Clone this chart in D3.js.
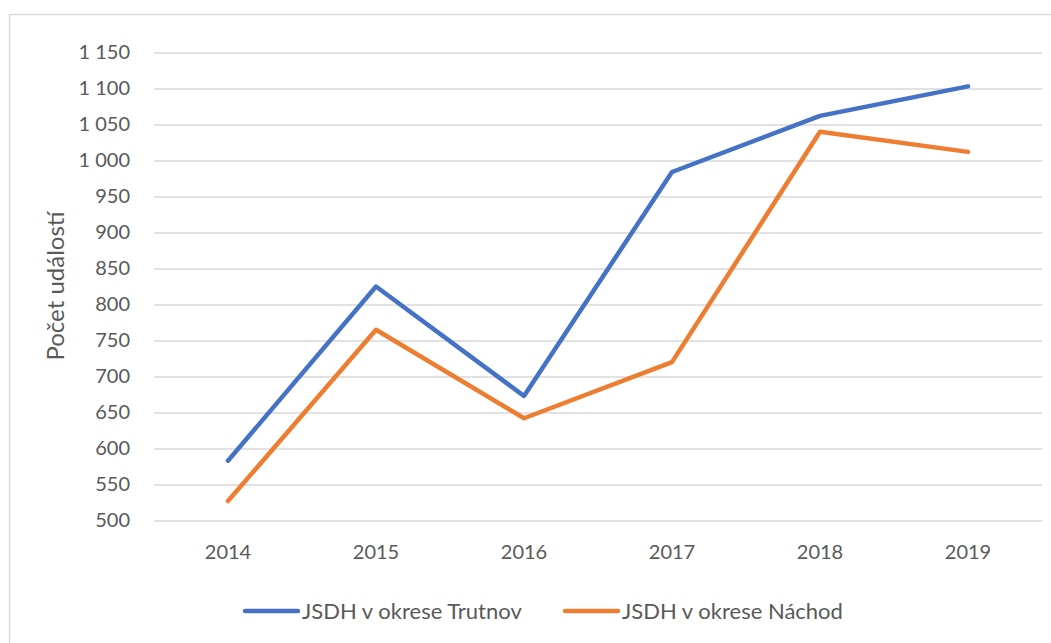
<!DOCTYPE html>
<html>
<head>
<meta charset="utf-8">
<script src="https://d3js.org/d3.v7.min.js"></script>
<style>
  body { margin: 0; background: #fff; }
  text { font-family: Lato, "Open Sans", sans-serif; fill: #595959; }
</style>
</head>
<body>
<div id="chart"></div>
<script>
// data
var years = ["2014", "2015", "2016", "2017", "2018", "2019"];
var trutnov = [583, 825, 673, 984, 1062, 1103];
var nachod = [527, 765, 642, 720, 1040, 1012];
var seriesNames = ["JSDH v okrese Trutnov", "JSDH v okrese Náchod"];
var seriesColors = ["#4472C4", "#ED7D31"];
var yTicks = d3.range(500, 1151, 50);

var svgWidth = 1051;
var svgHeight = 643;

var svg = d3.select("#chart")
    .append("svg")
    .attr("width", svgWidth)
    .attr("height", svgHeight);

// outer chart border
svg.append("rect")
    .attr("x", 9.5)
    .attr("y", 14.5)
    .attr("width", 1100)
    .attr("height", 700)
    .attr("fill", "none")
    .attr("stroke", "#d9d9d9")
    .attr("stroke-width", 1.5);

var xScale = d3.scaleBand()
    .domain(years)
    .range([154, 1042]);

var yScale = d3.scaleLinear()
    .domain([500, 1150])
    .range([520.5, 52.5]);

var czech = d3.formatLocale({decimal: ",", thousands: " ", grouping: [3], currency: ["", ""]});
var fmt = czech.format(",d");

// gridlines
var yAxis = d3.axisLeft(yScale)
    .tickValues(yTicks)
    .tickSize(-(1042 - 154))
    .tickPadding(24)
    .tickFormat(fmt);

var yG = svg.append("g")
    .attr("transform", "translate(154,0)")
    .call(yAxis);
yG.select(".domain").remove();
yG.selectAll(".tick line")
    .attr("stroke", "#d9d9d9")
    .attr("stroke-width", 1.5);
yG.selectAll(".tick text")
    .attr("font-size", "20px")
    .attr("fill", "#595959")
    .style("font-family", "Lato, sans-serif");

var xAxis = d3.axisBottom(xScale)
    .tickSize(0)
    .tickPadding(24);

var xG = svg.append("g")
    .attr("transform", "translate(0,520.5)")
    .call(xAxis);
xG.select(".domain").remove();
xG.selectAll(".tick text")
    .attr("font-size", "20px")
    .attr("fill", "#595959")
    .style("font-family", "Lato, sans-serif");

// y axis title
svg.append("text")
    .attr("transform", "translate(64,286) rotate(-90)")
    .attr("text-anchor", "middle")
    .attr("font-size", "24px")
    .text("Počet událostí");

var line = d3.line()
    .x((d, i) => xScale(years[i]) + xScale.bandwidth() / 2)
    .y(d => yScale(d));

[trutnov, nachod].forEach(function(vals, k) {
    svg.append("path")
        .datum(vals)
        .attr("d", line)
        .attr("fill", "none")
        .attr("stroke", seriesColors[k])
        .attr("stroke-width", 4.5)
        .attr("stroke-linejoin", "round")
        .attr("stroke-linecap", "round");
});

// legend
var legendX = [245, 565];
seriesNames.forEach(function(name, k) {
    var g = svg.append("g").attr("transform", `translate(${legendX[k]},611)`);
    g.append("line")
        .attr("x1", 0).attr("x2", 53)
        .attr("y1", 0).attr("y2", 0)
        .attr("stroke", seriesColors[k])
        .attr("stroke-width", 4.5)
        .attr("stroke-linecap", "round");
    g.append("text")
        .attr("x", 57)
        .attr("y", 7.5)
        .attr("font-size", "22px")
        .text(name);
});
</script>
</body>
</html>
